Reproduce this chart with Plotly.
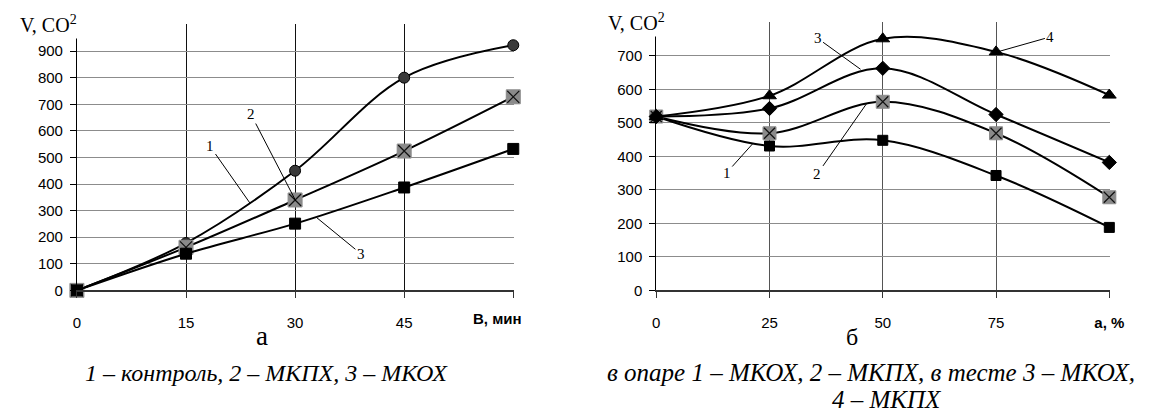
import plotly.graph_objects as go

# page body has an 8px default margin, so the figure is drawn 8px smaller and
# all reference pixel positions are shifted by that offset
OFF = 8
W, H = 1165 - OFF, 418 - OFF

# ---- data: chart a (time, min) ----
t_min = [0, 15, 30, 45, 60]
a_control = [0, 178, 450, 800, 922]   # 1 - контроль
a_mkpx = [0, 162, 340, 524, 728]      # 2 - МКПХ
a_mkox = [0, 138, 251, 387, 532]      # 3 - МКОХ
a_xticks = ['0', '15', '30', '45', '']
a_yticks = ['0', '100', '200', '300', '400', '500', '600', '700', '800', '900', '']

# ---- data: chart б (dose, %) ----
dose = [0, 25, 50, 75, 100]
b_opara_mkox = [519, 431, 448, 343, 188]   # 1
b_opara_mkpx = [519, 469, 563, 469, 278]   # 2
b_testo_mkox = [519, 543, 663, 525, 382]   # 3
b_testo_mkpx = [519, 581, 751, 712, 583]   # 4
b_xticks = ['0', '25', '50', '75', '<b>а, %</b>']
b_yticks = ['0', '100', '200', '300', '400', '500', '600', '700', '']


def px(x):
    return (x - OFF) / W


def py(y):
    return 1 - (y - OFF) / H


fig = go.Figure()

LINE = dict(color='black', width=2, shape='spline', smoothing=1.0)


def add_series(x, y, xa, ya, symbol, size, fill, line_color='black', overlay_x=None):
    fig.add_trace(go.Scatter(x=x, y=y, xaxis=xa, yaxis=ya, mode='lines+markers',
                             line=LINE, cliponaxis=False,
                             marker=dict(symbol=symbol, size=size, color=fill,
                                         line=dict(color=line_color, width=1)),
                             showlegend=False, hoverinfo='x+y'))
    if overlay_x:
        fig.add_trace(go.Scatter(x=x, y=y, xaxis=xa, yaxis=ya, mode='markers',
                                 cliponaxis=False,
                                 marker=dict(symbol='x-thin', size=overlay_x,
                                             line=dict(color='#111', width=1.2)),
                                 showlegend=False, hoverinfo='skip'))


# chart a
add_series(t_min, a_control, 'x', 'y', 'circle', 11, '#3a3a3a')
add_series(t_min, a_mkpx, 'x', 'y', 'square', 14, '#8a8a8a', line_color='#8a8a8a', overlay_x=12)
add_series(t_min, a_mkox, 'x', 'y', 'square', 11, 'black')

# chart б
add_series(dose, b_opara_mkox, 'x2', 'y2', 'square', 10, 'black')
add_series(dose, b_opara_mkpx, 'x2', 'y2', 'square', 13, '#8a8a8a', line_color='#8a8a8a', overlay_x=11)
add_series(dose, b_testo_mkox, 'x2', 'y2', 'diamond', 11, 'black')
add_series(dose, b_testo_mkpx, 'x2', 'y2', 'triangle-up', 12, 'black')

tickfont = dict(family='Liberation Sans, Arial', size=15, color='black')

common_x = dict(showgrid=True, gridwidth=1, zeroline=False, showline=True,
                linecolor='#333', linewidth=1.5, ticks='outside', ticklen=6,
                tickcolor='#333', tickfont=tickfont, ticklabelstandoff=12,
                fixedrange=True)
common_y = dict(showgrid=True, gridcolor='#8c8c8c', gridwidth=1, zeroline=False,
                showline=True, linecolor='black', linewidth=1, ticks='outside',
                ticklen=6, tickcolor='black', tickfont=tickfont, ticklabelstandoff=4,
                fixedrange=True)

fig.update_layout(
    width=W, height=H, margin=dict(l=0, r=0, t=0, b=0),
    paper_bgcolor='white', plot_bgcolor='white', showlegend=False,
    xaxis=dict(common_x, domain=[px(74), px(518)], range=[0, 60.05],
               tickvals=t_min, ticktext=a_xticks, gridcolor='#111', anchor='y'),
    yaxis=dict(common_y, domain=[py(296), py(24)], range=[0, 1003],
               tickvals=list(range(0, 1001, 100)), ticktext=a_yticks, anchor='x'),
    xaxis2=dict(common_x, domain=[px(663), px(1124)], range=[0, 100.08],
                tickvals=dose, ticktext=b_xticks, gridcolor='#555', anchor='y2'),
    yaxis2=dict(common_y, domain=[py(296), py(22)], range=[0, 802],
                tickvals=list(range(0, 801, 100)), ticktext=b_yticks, anchor='x2'),
)

serif = 'Liberation Serif, Times New Roman'
ann = []
# y-axis titles
ann.append(dict(xref='paper', yref='paper', x=px(82), y=py(24), xanchor='right', yanchor='middle',
                text='V, CO<sup>2</sup>&nbsp;', showarrow=False, bgcolor='white', borderpad=2,
                font=dict(family=serif, size=20, color='black')))
ann.append(dict(xref='paper', yref='paper', x=px(680), y=py(22), xanchor='right', yanchor='middle',
                text='V, CO<sup>2</sup>&nbsp;', showarrow=False, bgcolor='white', borderpad=2,
                font=dict(family=serif, size=20, color='black')))
# x-axis title of chart a
ann.append(dict(xref='paper', yref='paper', x=px(502), y=py(325), xanchor='center', yanchor='middle',
                text='<b>В, мин</b>', showarrow=False,
                font=dict(family='Liberation Sans, Arial', size=15, color='black')))

# curve labels with leader lines
num_font = dict(family=serif, size=15, color='black')
labels = [
    ('x', 'y', 23.8, 328, '1', -40, -57),
    ('x', 'y', 30.1, 336, '2', -45, -87),
    ('x', 'y', 33.0, 273, '3', 44, 36),
    ('x2', 'y2', 21.3, 438, '1', -26, 29),
    ('x2', 'y2', 46.4, 557, '2', -49, 70),
    ('x2', 'y2', 45.1, 660, '3', -43, -31),
    ('x2', 'y2', 75.3, 712, '4', 53, -15),
]
for xr, yr, x, y, t, ax, ay in labels:
    ann.append(dict(xref=xr, yref=yr, x=x, y=y, text=t, showarrow=True, arrowhead=0,
                    arrowwidth=1, arrowcolor='black', ax=ax, ay=ay, standoff=0,
                    font=num_font))

# panel letters and captions
ann.append(dict(xref='paper', yref='paper', x=px(262), y=py(343), text='а', showarrow=False,
                xanchor='center', yanchor='middle', font=dict(family=serif, size=27, color='black')))
ann.append(dict(xref='paper', yref='paper', x=px(862), y=py(344), text='б', showarrow=False,
                xanchor='center', yanchor='middle', font=dict(family=serif, size=24, color='black')))
ann.append(dict(xref='paper', yref='paper', x=px(267), y=py(380),
                text='<i>1 – контроль, 2 – МКПХ, 3 – МКОХ</i>', showarrow=False,
                xanchor='center', yanchor='middle', font=dict(family=serif, size=24, color='black')))
ann.append(dict(xref='paper', yref='paper', x=px(881), y=py(380),
                text='<i>в опаре 1 – МКОХ, 2 – МКПХ, в тесте 3 – МКОХ,</i>', showarrow=False,
                xanchor='center', yanchor='middle', font=dict(family=serif, size=25, color='black')))
ann.append(dict(xref='paper', yref='paper', x=px(898), y=py(407),
                text='<i>4 – МКПХ</i>', showarrow=False,
                xanchor='center', yanchor='middle', font=dict(family=serif, size=25, color='black')))

fig.update_layout(annotations=ann)
fig.write_html('out.html')
